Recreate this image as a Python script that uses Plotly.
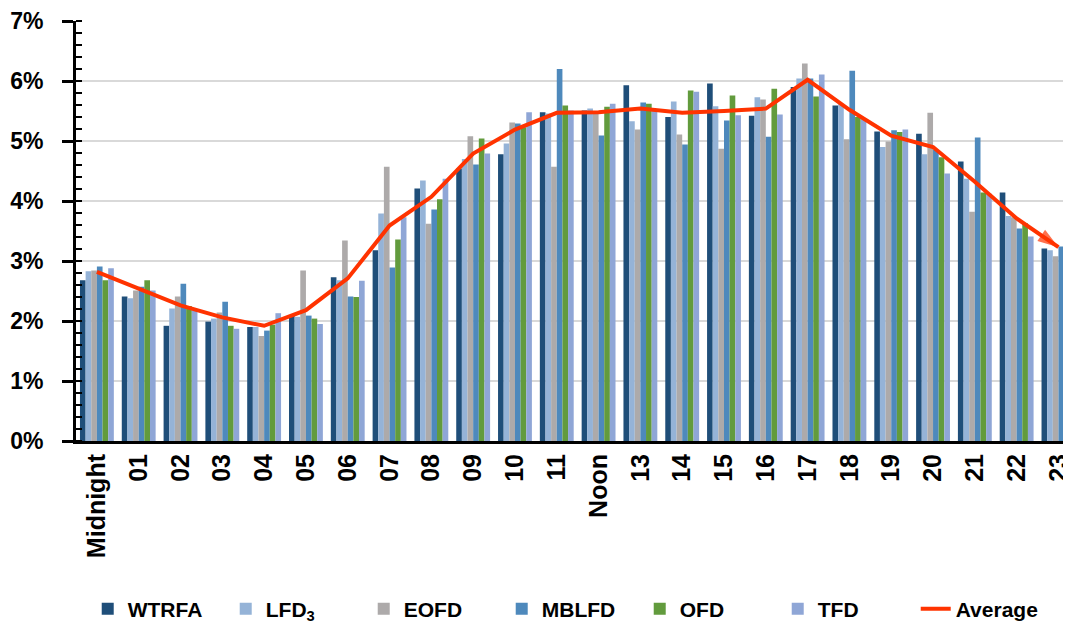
import plotly.graph_objects as go

hours = list(range(24))
hour_labels = ["Midnight", "01", "02", "03", "04", "05", "06", "07", "08", "09", "10", "11",
               "Noon", "13", "14", "15", "16", "17", "18", "19", "20", "21", "22", "23"]

wtrfa = [2.68, 2.41, 1.92, 1.99, 1.90, 2.09, 2.73, 3.18, 4.21, 4.54, 4.78, 5.48,
         5.51, 5.93, 5.40, 5.96, 5.42, 5.90, 5.59, 5.16, 5.12, 4.66, 4.14, 3.21]
lfd3 = [2.83, 2.38, 2.21, 2.04, 1.90, 2.07, 2.68, 3.79, 4.34, 4.70, 4.96, 5.46,
        5.54, 5.33, 5.66, 5.58, 5.73, 6.04, 5.62, 4.90, 4.78, 4.37, 3.75, 3.18]
eofd = [2.84, 2.51, 2.41, 2.14, 1.75, 2.84, 3.34, 4.57, 3.62, 5.08, 5.31, 4.57,
        5.50, 5.19, 5.11, 4.87, 5.69, 6.29, 5.03, 4.99, 5.47, 3.82, 3.73, 3.08]
mblfd = [2.91, 2.57, 2.62, 2.32, 1.84, 2.09, 2.41, 2.89, 3.86, 4.61, 5.29, 6.20,
         5.09, 5.64, 4.94, 5.34, 5.07, 6.04, 6.17, 5.18, 4.85, 5.06, 3.54, 3.24]
ofd = [2.68, 2.68, 2.25, 1.92, 1.94, 2.04, 2.40, 3.36, 4.03, 5.04, 5.23, 5.59,
       5.57, 5.62, 5.84, 5.76, 5.87, 5.74, 5.40, 5.15, 4.73, 4.14, 3.63, 3.14]
tfd = [2.88, 2.51, 2.18, 1.87, 2.13, 1.95, 2.67, 3.73, 4.37, 4.79, 5.48, 5.51,
       5.62, 5.51, 5.82, 5.43, 5.44, 6.11, 5.37, 5.19, 4.46, 4.12, 3.41, 3.10]
average = [2.82, 2.54, 2.26, 2.06, 1.92, 2.18, 2.71, 3.59, 4.07, 4.79, 5.19, 5.47,
           5.48, 5.54, 5.47, 5.50, 5.54, 6.02, 5.52, 5.09, 4.90, 4.32, 3.71, 3.23]

series = [
    ("WTRFA", wtrfa, "#1F4E79"),
    ("LFD<sub>3</sub>", lfd3, "#95B3D7"),
    ("EOFD", eofd, "#ADAAAA"),
    ("MBLFD", mblfd, "#4E89BC"),
    ("OFD", ofd, "#629B3D"),
    ("TFD", tfd, "#8FA6D6"),
]

fig = go.Figure()
for name, vals, col in series:
    fig.add_trace(go.Bar(x=hours, y=vals, name=name, marker=dict(color=col, line=dict(width=0))))

n = len(average)
fig.add_trace(go.Scatter(
    x=hours, y=average, name="Average", mode="lines+markers", cliponaxis=False,
    line=dict(color="#FF3300", width=4),
    marker=dict(symbol="arrow", size=[0] * (n - 1) + [22], angleref="previous",
                color="#FF3300", line=dict(width=0)),
))

bold = dict(family="Liberation Sans", color="black", weight="bold")

fig.update_layout(
    width=1063, height=616, autosize=False,
    margin=dict(l=68, r=0, t=13, b=183),
    plot_bgcolor="white", paper_bgcolor="white",
    barmode="group", bargap=0.19, bargroupgap=0,
    legend=dict(orientation="h", xref="container", yref="container",
                x=0.075, xanchor="left", y=0.024, yanchor="middle",
                font=dict(size=21, **bold), entrywidth=93, entrywidthmode="pixels",
                traceorder="normal", bgcolor="rgba(0,0,0,0)"),
    showlegend=True,
)
fig.update_xaxes(
    range=[-0.5, 23.3], tickvals=hours, ticktext=hour_labels, tickangle=-90,
    tickfont=dict(size=25, **bold), showline=True, linecolor="black", linewidth=3,
    ticks="", showgrid=False, zeroline=False, automargin=False,
    ticklabeloverflow="allow",
)
fig.update_yaxes(
    range=[0, 7], dtick=1, ticksuffix="%", tickfont=dict(size=23, **bold),
    showline=True, linecolor="black", linewidth=3,
    ticks="outside", ticklen=11, tickwidth=3, tickcolor="black",
    minor=dict(ticks="inside", dtick=0.2, ticklen=6, tickwidth=2, tickcolor="black", showgrid=False),
    showgrid=True, gridcolor="#D9D9D9", gridwidth=2, zeroline=False,
    ticklabelstandoff=14, automargin=False,
)

fig.write_html("out.html")
